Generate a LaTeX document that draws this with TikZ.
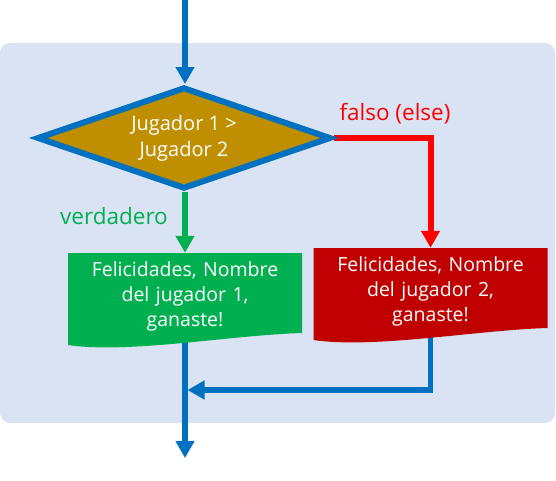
\documentclass[tikz,border=0pt]{standalone}
\usepackage{fontspec}
\setmainfont{Open Sans}
\usetikzlibrary{shapes.geometric,arrows.meta,calc}
\definecolor{bgc}{HTML}{DAE3F3}
\definecolor{flowblue}{HTML}{0070C0}
\definecolor{gold}{HTML}{BF8F00}
\definecolor{okgreen}{HTML}{00B050}
\definecolor{darkred}{HTML}{C00000}
\definecolor{brightred}{HTML}{FF0000}
\pgfdeclarelayer{bg}
\pgfdeclarelayer{edges}
\pgfsetlayers{bg,edges,main}
\tikzset{
  decision/.style={shape=diamond, aspect=3, draw=flowblue, line width=6pt, fill=gold,
    minimum width=294pt, minimum height=102pt, inner sep=0pt, text=white,
    align=center, font=\fontsize{20}{24}\selectfont},
  docbox/.style={shape=rectangle, minimum width=234pt, minimum height=96pt,
    inner sep=0pt, text width=230pt, align=center, text=white, text depth=63pt,
    font=\fontsize{19.5}{25}\selectfont,
    path picture={
      \fill[#1] (path picture bounding box.north west)
        -- (path picture bounding box.north east)
        -- ([shift={(0,-80pt)}]path picture bounding box.north east)
        .. controls ([shift={(-70pt,-82pt)}]path picture bounding box.north east)
        and ([shift={(60pt,-101pt)}]path picture bounding box.north west)
        .. ([shift={(0,-92pt)}]path picture bounding box.north west) -- cycle;
    }},
  flow/.style={line width=5.5pt, draw=flowblue, -{Triangle[length=17pt,width=18pt]}},
  yesline/.style={line width=5.5pt, draw=okgreen, -{Triangle[length=17pt,width=18pt]}},
  noline/.style={line width=6pt, draw=brightred, -{Triangle[length=17pt,width=18pt]}},
  lbl/.style={font=\fontsize{22.5}{26}\selectfont, inner sep=0pt}
}
\begin{document}
\begin{tikzpicture}[x=1pt,y=-1pt]
\useasboundingbox (0,0) rectangle (556,480);
\begin{pgfonlayer}{bg}
\fill[bgc, rounded corners=10pt] (0,43) rectangle (555,423);
\end{pgfonlayer}
\node[decision] (d) at (184,138) {\raisebox{-3pt}{\shortstack{Jugador 1 >\\[3pt]Jugador 2}}};
\node[docbox=okgreen] (g) at (185,301) {Felicidades, Nombre\\del jugador 1,\\ganaste!};
\node[docbox=darkred] (r) at (430.5,296) {Felicidades, Nombre\\del jugador 2,\\ganaste!};
\node[lbl, text=brightred] (fl) at (395,114) {falso (else)};
\node[lbl, text=okgreen] (vl) at (114,216) {verdadero};
\coordinate (top) at (185,0);
\coordinate (bot) at (185,458);
\coordinate (m) at (187.5,390);
\begin{pgfonlayer}{edges}
\draw[flow] (top) -- (top |- d.north);
\draw[noline] (d.east) -| (r.north);
\draw[yesline] (d.south -| g.north) -- (g.north);
\draw[flow] (g.center) -- (bot);
\draw[flow] (r.center) |- (m);
\end{pgfonlayer}
\end{tikzpicture}
\end{document}
